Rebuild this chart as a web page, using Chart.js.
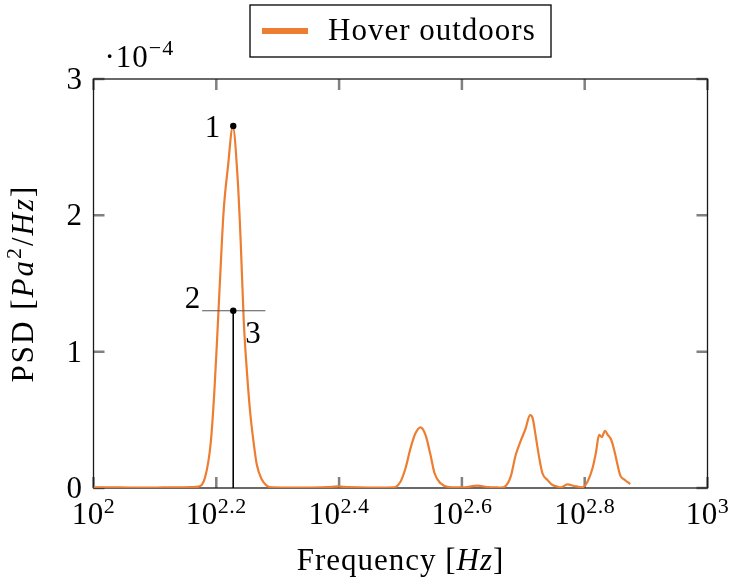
<!DOCTYPE html>
<html><head><meta charset="utf-8">
<script src="https://cdn.jsdelivr.net/npm/chart.js@4.4.0/dist/chart.umd.min.js"></script>
<style>html,body{margin:0;padding:0;background:#fff;}#wrap{width:730px;height:581px;}</style>
</head><body><div id="wrap"><canvas id="c" width="730" height="581"></canvas></div>
<script>
// ---- data (PSD in units of 1e-4 Pa^2/Hz) ----
const freqHz = [100,110,120,130,140,145,
  148.1,152.0,155.2,157.3,159.0,160.8,162.9,165.6,168.6,
  171.8,173.7,175.7,177.8,180.0,182.1,184.5,188.1,191.2,195.5,
  205,220,240,250,260,280,300,
  308.4,316.2,322.2,328.3,334.5,340.9,347.3,353.9,359.3,367.5,379.1,
  399.1,421.8,440,454.5,
  460.4,469.1,478.0,487.1,496.3,505.7,514.0,519.2,525.1,531.6,538.5,548.7,559.1,569.7,576.8,
  591.5,606.4,625.8,
  637.6,649.7,657.8,666.0,672.8,680.9,688.1,696.0,704.7,711.8,720.6,733.6,748.3];
const psdE4 = [0.004,0.004,0.003,0.004,0.005,0.006,
  0.01,0.08,0.33,0.70,1.10,1.55,2.03,2.36,2.65,
  2.25,1.80,1.22,0.85,0.55,0.35,0.17,0.06,0.02,0.004,
  0.003,0.003,0.006,0.012,0.006,0.003,0.003,
  0.004,0.046,0.145,0.291,0.401,0.445,0.389,0.242,0.108,0.034,0.007,
  0.004,0.017,0.006,0.004,
  0.003,0.015,0.083,0.242,0.345,0.438,0.535,0.511,0.38,0.23,0.108,0.059,0.022,0.010,0.004,
  0.026,0.015,0.005,
  0.046,0.145,0.255,0.389,0.374,0.420,0.389,0.359,0.279,0.193,0.095,0.059,0.029];
const xTickExps = [2, 2.2, 2.4, 2.6, 2.8, 3];
const yTickValues = [0, 1, 2, 3];
const seriesLabel = 'Hover outdoors';
const peakFreq = 168.9;
const peakValue = 2.655;
const halfValue = 1.30;
const halfSpanHz = [150.3, 190.5];
const markerLabels = ['1', '2', '3'];

const ORANGE = '#ED7D31';
const SERIF = '"Liberation Serif", "DejaVu Serif", serif';
const F_MAIN = '31px ' + SERIF;
const F_IT = 'italic 31px ' + SERIF;
const F_SUP = '22px ' + SERIF;

function drawParts(ctx, parts, x, y, align, spacing) {
  ctx.letterSpacing = (spacing || 0) + 'px';
  let total = 0;
  parts.forEach(p => { ctx.font = p.f; p.w = ctx.measureText(p.t).width; total += p.w; });
  let cx = align === 'center' ? x - total / 2 : (align === 'right' ? x - total : x);
  ctx.textAlign = 'left';
  ctx.textBaseline = 'alphabetic';
  parts.forEach(p => { ctx.font = p.f; ctx.fillText(p.t, cx, y + (p.dy || 0)); cx += p.w; });
  ctx.letterSpacing = '0px';
}

const decor = {
  id: 'decor',
  beforeDatasetsDraw(chart) {
    const {ctx, chartArea: a, scales: {x, y}} = chart;
    ctx.save();
    ctx.strokeStyle = '#808080';
    ctx.lineWidth = 2.5;
    const L = 11;
    xTickExps.forEach(e => {
      const px = x.getPixelForValue(Math.pow(10, e));
      ctx.beginPath();
      ctx.moveTo(px, a.bottom); ctx.lineTo(px, a.bottom - L);
      ctx.moveTo(px, a.top); ctx.lineTo(px, a.top + L);
      ctx.stroke();
    });
    yTickValues.forEach(v => {
      const py = y.getPixelForValue(v);
      ctx.beginPath();
      ctx.moveTo(a.left, py); ctx.lineTo(a.left + L, py);
      ctx.moveTo(a.right, py); ctx.lineTo(a.right - L, py);
      ctx.stroke();
    });
    ctx.strokeStyle = '#1a1a1a';
    ctx.lineWidth = 1.3;
    ctx.strokeRect(a.left, a.top, a.right - a.left, a.bottom - a.top);
    ctx.restore();
  },
  afterDraw(chart) {
    const {ctx, chartArea: a, scales: {x, y}} = chart;
    ctx.save();
    ctx.fillStyle = '#000';
    // x tick labels with superscript exponents
    xTickExps.forEach(e => {
      const px = x.getPixelForValue(Math.pow(10, e));
      const sup = Number.isInteger(e) ? String(e) : e.toFixed(1);
      drawParts(ctx, [{t: '10', f: F_MAIN}, {t: sup, f: F_SUP, dy: -11}], px, a.bottom + 36, 'center', 0.5);
    });
    // y tick labels
    yTickValues.forEach(v => {
      const py = y.getPixelForValue(v);
      ctx.font = F_MAIN; ctx.textAlign = 'right'; ctx.textBaseline = 'alphabetic';
      ctx.fillText(String(v), a.left - 11.5, py + 10);
    });
    // multiplier
    drawParts(ctx, [{t: '\u00B710', f: F_MAIN}, {t: '\u22124', f: F_SUP, dy: -12}], a.left + 11, a.top - 12, 'left', 1);
    // x title
    drawParts(ctx, [{t: 'Frequency [', f: F_MAIN}, {t: 'Hz', f: F_IT}, {t: ']', f: F_MAIN}],
      (a.left + a.right) / 2, 570, 'center', 1);
    // y title
    ctx.save();
    ctx.translate(33, (a.top + a.bottom) / 2);
    ctx.rotate(-Math.PI / 2);
    drawParts(ctx, [{t: 'PSD [', f: F_MAIN}, {t: 'Pa', f: F_IT}, {t: '2', f: F_SUP, dy: -12},
      {t: '/', f: F_MAIN}, {t: 'Hz', f: F_IT}, {t: ']', f: F_MAIN}], 0, 0, 'center', 2);
    ctx.restore();
    // annotation labels
    const pX = x.getPixelForValue(peakFreq);
    const p1 = y.getPixelForValue(peakValue);
    const p2 = y.getPixelForValue(halfValue);
    ctx.font = F_MAIN; ctx.textBaseline = 'alphabetic';
    ctx.textAlign = 'right';
    ctx.fillText(markerLabels[0], pX - 13, p1 + 11);
    ctx.fillText(markerLabels[1], x.getPixelForValue(halfSpanHz[0]) - 2, p2 - 3);
    ctx.textAlign = 'left';
    ctx.fillText(markerLabels[2], x.getPixelForValue(halfSpanHz[1]) - 20, p2 + 32);
    // legend
    const cx = (a.left + a.right) / 2;
    const lw = 301, lh = 52;
    ctx.strokeStyle = '#000'; ctx.lineWidth = 1.3;
    ctx.strokeRect(cx - lw / 2, 5, lw, lh);
    ctx.fillStyle = chart.data.datasets[0].borderColor;
    ctx.fillRect(cx - lw / 2 + 12, 28, 46, 6);
    ctx.fillStyle = '#000';
    drawParts(ctx, [{t: chart.data.datasets[0].label, f: '31px ' + SERIF}], cx - lw / 2 + 78, 40, 'left', 1);
    ctx.restore();
  }
};

new Chart(document.getElementById('c'), {
  type: 'line',
  data: {
    datasets: [
      {
        label: seriesLabel,
        data: freqHz.map((f, i) => ({x: f, y: psdE4[i]})),
        borderColor: ORANGE, backgroundColor: ORANGE,
        borderWidth: 2.2, pointRadius: 0, fill: false,
        cubicInterpolationMode: 'monotone', order: 3
      },
      {
        label: 'half',
        data: [{x: halfSpanHz[0], y: halfValue}, {x: halfSpanHz[1], y: halfValue}],
        borderColor: '#555', borderWidth: 1.2, pointRadius: 0, fill: false, order: 2
      },
      {
        label: 'drop',
        data: [{x: peakFreq, y: halfValue}, {x: peakFreq, y: 0}],
        borderColor: '#000', borderWidth: 1, pointRadius: 0, fill: false, order: 2
      },
      {
        label: 'markers',
        data: [{x: peakFreq, y: peakValue}, {x: peakFreq, y: halfValue}],
        showLine: false, pointRadius: 3.2, pointBackgroundColor: '#000',
        pointBorderColor: '#000', borderWidth: 0, order: 1
      }
    ]
  },
  options: {
    responsive: false, animation: false, devicePixelRatio: 1,
    layout: {padding: {top: 79, right: 22.5, left: 0, bottom: 0}},
    plugins: {legend: {display: false}, tooltip: {enabled: false}, title: {display: false}},
    scales: {
      x: {
        type: 'logarithmic', min: 100, max: 1000,
        ticks: {display: false}, grid: {display: false}, border: {display: false},
        afterFit(s) { s.height = 93; }
      },
      y: {
        type: 'linear', min: 0, max: 3,
        ticks: {display: false}, grid: {display: false}, border: {display: false},
        afterFit(s) { s.width = 93.5; }
      }
    }
  },
  plugins: [decor]
});
</script>
</body></html>
